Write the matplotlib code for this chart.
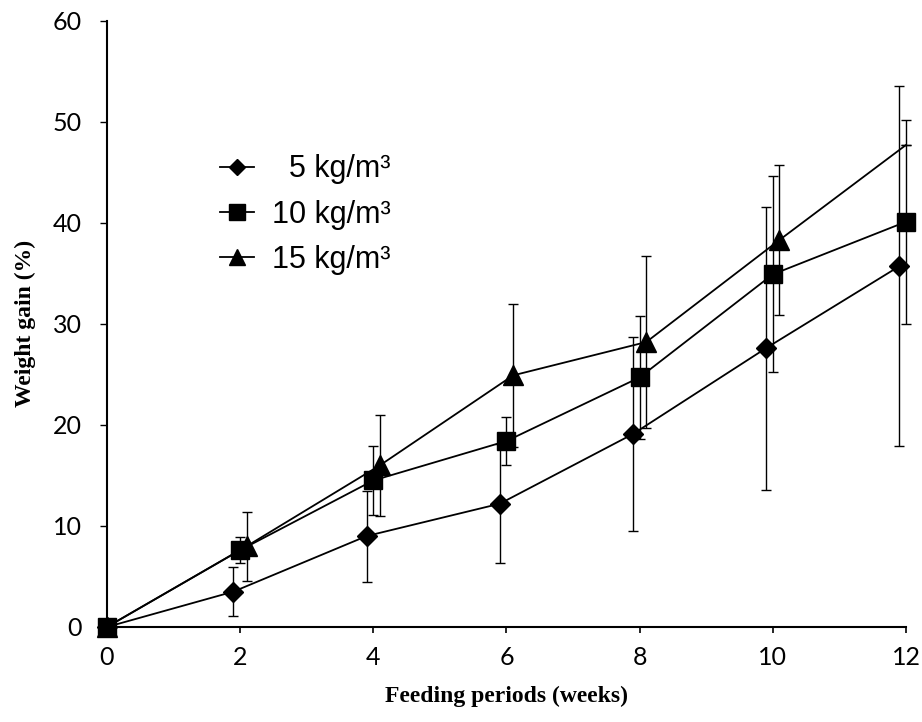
import numpy as np
import matplotlib.pyplot as plt

weeks = [0, 2, 4, 6, 8, 10, 12]

# 5 kg/m3
gain_5 = [0, 3.5, 9.0, 12.2, 19.1, 27.6, 35.7]
err_5 = [0, 2.4, 4.5, 5.9, 9.6, 14.0, 17.8]
# 10 kg/m3
gain_10 = [0, 7.6, 14.5, 18.4, 24.7, 34.9, 40.1]
err_10 = [0, 1.3, 3.4, 2.4, 6.1, 9.7, 10.1]
# 15 kg/m3
gain_15 = [0, 8.0, 16.0, 24.9, 28.2, 38.3, 47.7]
err_15 = [0, 3.4, 5.0, 7.1, 8.5, 7.4, 0]

labels = ['  5 kg/m\u00b3', '10 kg/m\u00b3', '15 kg/m\u00b3']

fig = plt.figure(figsize=(9.22, 7.22), dpi=100)
ax = fig.add_axes([0.116, 0.1316, 0.8666, 0.8397])

w = np.array(weeks, dtype=float)
# small horizontal shifts so the series do not overlap (not at 0 / end of triangle line)
x5 = np.where(w > 0, w - 0.1, w)
x10 = w
x15 = np.where((w > 0) & (w < 12), w + 0.1, w)

series = [
    (x5, gain_5, err_5, 'D', 10),
    (x10, gain_10, err_10, 's', 13),
    (x15, gain_15, err_15, '^', 14),
]

handles = []
for (x, y, e, m, ms), lab in zip(series, labels):
    ax.errorbar(x, y, yerr=e, fmt='none', ecolor='black', elinewidth=1.0,
                capsize=3.5, capthick=1.0, zorder=2, clip_on=False)
    every = list(range(len(x))) if m != '^' else list(range(len(x) - 1))
    h, = ax.plot(x, y, color='black', lw=1.3, marker=m, ms=ms,
                 markevery=every, mfc='black', mec='black', zorder=3,
                 clip_on=False, label=lab)
    handles.append(h)

ax.set_xlim(0, 12)
ax.set_ylim(0, 60)
ax.set_xticks(weeks)
ax.set_yticks(range(0, 61, 10))

for s in ['top', 'right']:
    ax.spines[s].set_visible(False)
for s in ['left', 'bottom']:
    ax.spines[s].set_linewidth(1.5)

tickfont = {'family': 'Lato', 'size': 18}
ax.set_xticklabels([str(v) for v in weeks], **tickfont)
ax.set_yticklabels([str(v) for v in range(0, 61, 10)], **tickfont)
ax.tick_params(axis='y', direction='out', length=5, width=1, pad=13)
ax.tick_params(axis='x', direction='out', length=4, width=1.2, pad=10)

ax.set_xlabel('Feeding periods (weeks)', family='Liberation Serif',
              weight='bold', size=17, labelpad=12)
ax.set_ylabel('Weight gain (%)', family='Liberation Serif',
              weight='bold', size=17, labelpad=12)

ax.legend(handles=handles, loc='upper left', bbox_to_anchor=(0.115, 0.815),
          frameon=False, prop={'family': 'Liberation Sans', 'size': 22},
          markerscale=0.85, handlelength=1.1, handletextpad=0.6,
          labelspacing=0.5, borderpad=0.2)

fig.savefig('out.png', dpi=100)
